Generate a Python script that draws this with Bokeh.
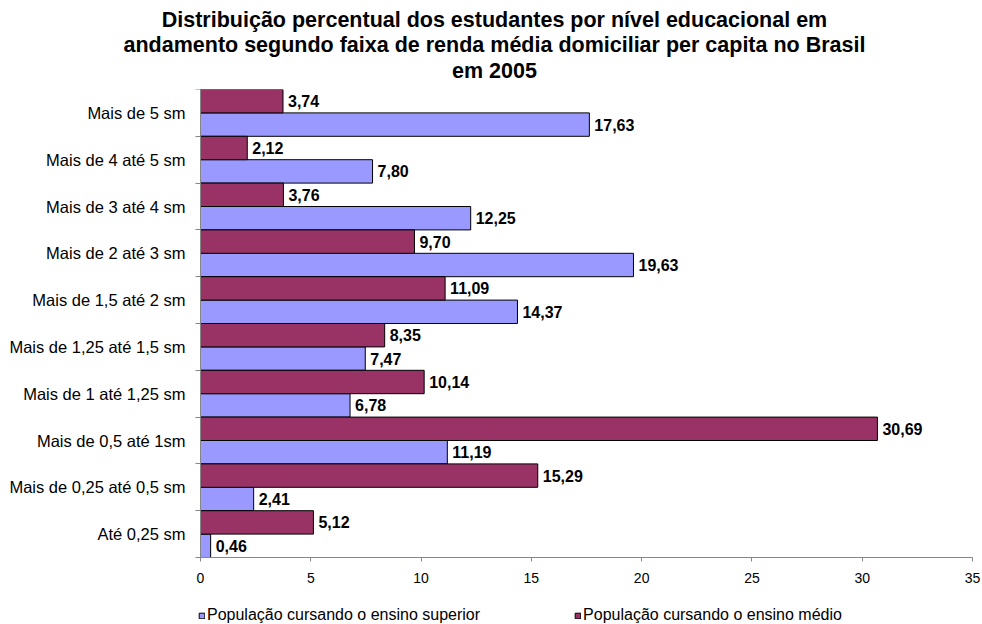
from bokeh.plotting import figure
from bokeh.models import Legend, LegendItem, FixedTicker, ColumnDataSource, Range1d, Title
from bokeh.core.properties import value
from bokeh.embed import file_html
from bokeh.resources import INLINE

# Data (bottom -> top)
categories = ["Até 0,25 sm", "Mais de 0,25 até 0,5 sm", "Mais de 0,5 até 1sm",
              "Mais de 1 até 1,25 sm", "Mais de 1,25 até 1,5 sm", "Mais de 1,5 até 2 sm",
              "Mais de 2 até 3 sm", "Mais de 3 até 4 sm", "Mais de 4 até 5 sm", "Mais de 5 sm"]
superior = [0.46, 2.41, 11.19, 6.78, 7.47, 14.37, 19.63, 12.25, 7.80, 17.63]
medio = [5.12, 15.29, 30.69, 10.14, 8.35, 11.09, 9.70, 3.76, 2.12, 3.74]
x_ticks = [0, 5, 10, 15, 20, 25, 30, 35]
x_max = 35
title_lines = ["Distribuição percentual dos estudantes por nível educacional em",
               "andamento segundo faixa de renda média domiciliar per capita no Brasil",
               "em 2005"]
series_names = ["População cursando o ensino superior", "População cursando o ensino médio"]

FONT = "Liberation Sans"
BLUE = "#9999FF"
MAROON = "#993366"
AXIS_GRAY = "#868686"
TITLE_SIZE = 21.5

# Arial/Liberation Sans Bold advance widths (per 1000 em) for centring the title lines
BOLD_W = {" ": 278, "a": 556, "b": 611, "c": 556, "d": 611, "e": 556, "f": 333, "g": 611,
          "h": 611, "i": 278, "j": 278, "k": 556, "l": 278, "m": 889, "n": 611, "o": 611,
          "p": 611, "q": 611, "r": 389, "s": 556, "t": 333, "u": 611, "v": 556, "w": 778,
          "x": 556, "y": 556, "z": 500, "B": 722, "D": 722, "ç": 556, "ã": 556, "é": 556,
          "í": 278, "0": 556, "1": 556, "2": 556, "5": 556}

def text_w(s, size):
    return sum(BOLD_W.get(ch, 556) for ch in s) * size / 1000.0

W, H = 982, 624
PLOT_LEFT = 200          # pixel where x = 0 sits
PLOT_W = 772             # pixel width of 0..35
FRAME_TOP = 89
BARS_PX = 468            # pixel height of the bar area
BELOW_PX = 67            # room under the bars for tick labels and legend
TITLE_CENTER = 494

n = len(categories)
px_x = PLOT_W / x_max
px_y = BARS_PX / n
x_start = -PLOT_LEFT / px_x
x_end = x_max + (W - PLOT_LEFT - PLOT_W) / px_x
y_start = -0.5 - BELOW_PX / px_y

p = figure(width=W, height=H, x_range=Range1d(x_start, x_end), y_range=Range1d(y_start, n - 0.5),
           output_backend="svg", toolbar_location=None,
           min_border_left=0, min_border_right=0, min_border_top=FRAME_TOP, min_border_bottom=0)
p.outline_line_color = None
p.xgrid.grid_line_color = None
p.ygrid.grid_line_color = None

idx = list(range(n))
fmt = lambda v: f"{v:.2f}".replace(".", ",")

src_sup = ColumnDataSource(dict(y=[i - 0.25 for i in idx], v=superior, t=[fmt(v) for v in superior]))
src_med = ColumnDataSource(dict(y=[i + 0.25 for i in idx], v=medio, t=[fmt(v) for v in medio]))

r_sup = p.hbar(y="y", left=0, right="v", height=0.5, source=src_sup,
               fill_color=BLUE, line_color="black", line_width=1)
r_med = p.hbar(y="y", left=0, right="v", height=0.5, source=src_med,
               fill_color=MAROON, line_color="black", line_width=1)

for src in (src_sup, src_med):
    p.text(x="v", y="y", text="t", source=src, x_offset=5, text_align="left",
           text_baseline="middle", text_font=value(FONT), text_font_style="bold",
           text_font_size="16px", text_color="black")

# X axis, drawn at the bottom of the bars
xa = p.xaxis[0]
xa.fixed_location = -0.5
xa.bounds = (0, x_max)
xa.ticker = FixedTicker(ticks=x_ticks)
xa.axis_line_color = AXIS_GRAY
xa.major_tick_line_color = AXIS_GRAY
xa.major_tick_in = 0
xa.major_tick_out = 4
xa.minor_tick_line_color = None
xa.major_label_standoff = 11
xa.major_label_text_font = FONT
xa.major_label_text_font_size = "14px"
xa.major_label_text_color = "black"

# Y axis, drawn at x = 0
ya = p.yaxis[0]
ya.fixed_location = 0
ya.bounds = (-0.5, n - 0.5)
ya.ticker = FixedTicker(ticks=idx, minor_ticks=[i - 0.5 for i in range(n + 1)])
ya.major_label_overrides = {i: c for i, c in zip(idx, categories)}
ya.axis_line_color = AXIS_GRAY
ya.major_tick_line_color = None
ya.major_tick_in = 0
ya.major_tick_out = 0
ya.minor_tick_line_color = AXIS_GRAY
ya.minor_tick_in = 0
ya.minor_tick_out = 5
ya.major_label_standoff = 10
ya.major_label_text_font = FONT
ya.major_label_text_font_size = "16.5px"
ya.major_label_text_color = "black"

# Title: p.title is the outermost line; added titles stack outward from the plot
def style_title(t, line, standoff):
    t.text = line
    t.align = "left"
    t.offset = TITLE_CENTER - text_w(line, TITLE_SIZE) / 2
    t.text_font = FONT
    t.text_font_style = "bold"
    t.text_font_size = f"{TITLE_SIZE}px"
    t.text_color = "black"
    t.standoff = standoff

style_title(p.title, title_lines[0], 11)
t3 = Title()
style_title(t3, title_lines[2], 14)
p.add_layout(t3, "above")
t2 = Title()
style_title(t2, title_lines[1], -14)
p.add_layout(t2, "above")

legend = Legend(items=[LegendItem(label=series_names[0], renderers=[r_sup]),
                       LegendItem(label=series_names[1], renderers=[r_med])],
                location=(PLOT_LEFT - 2, 0), orientation="horizontal",
                glyph_width=7, glyph_height=7, label_standoff=2, spacing=94,
                padding=0, margin=0, border_line_color=None, background_fill_alpha=0,
                label_text_font=FONT, label_text_font_size="16px", label_height=16,
                label_text_color="black")
p.add_layout(legend)

open("out.html", "w").write(file_html(p, INLINE))
